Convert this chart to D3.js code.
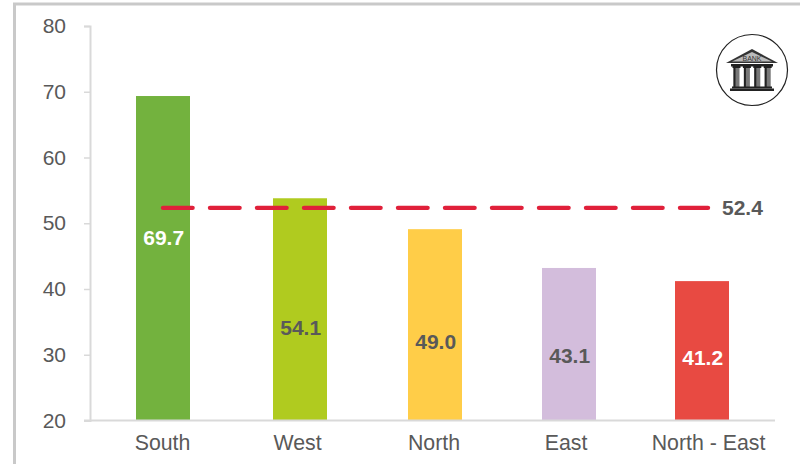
<!DOCTYPE html>
<html><head><meta charset="utf-8">
<script src="https://cdn.jsdelivr.net/npm/d3@7"></script>
<style>html,body{margin:0;padding:0;background:#fff}svg{display:block;font-family:"Liberation Sans",Arial,sans-serif}</style>
</head><body><div id="c"></div>
<script>
const categories = ["South","West","North","East","North - East"];
const barValues = [69.35,53.8,49.1,43.2,41.2];
const labelValues = [69.7,54.1,49.0,43.1,41.2];
const labelAnchors = [47.9,34.2,32.0,29.9,29.6];
const labelColors = ["#ffffff","#595959","#595959","#595959","#ffffff"];
const barColors = ["#73b23e","#b0cb1f","#ffcd48","#d3bddc","#e84a42"];
const averageValue = 52.4;
const yTicks = [20,30,40,50,60,70,80];

const W=800,H=464;
const svg=d3.select("#c").append("svg").attr("width",W).attr("height",H);
svg.append("path").attr("d","M14.5,464V4H800").attr("fill","none").attr("stroke","#c9c9c9").attr("stroke-width",3);

const y=d3.scaleLinear().domain([20,80]).range([420.5,26]);
const x=d3.scaleOrdinal().domain(categories).range([163,300,435,569,702]);
const xText=d3.scaleOrdinal().domain(categories).range([162.5,297.5,434,566,708.5]);
const barW=54, axisX=90;

svg.append("g").selectAll("rect").data(categories).join("rect")
 .attr("x",d=>x(d)-barW/2).attr("width",barW)
 .attr("y",(d,i)=>y(barValues[i])).attr("height",(d,i)=>y(20)-y(barValues[i]))
 .attr("fill",(d,i)=>barColors[i]);

// axes
const ax=svg.append("g").attr("transform",`translate(${axisX},0)`)
 .call(d3.axisLeft(y).tickValues(yTicks).tickSize(6).tickPadding(18));
ax.select(".domain").attr("stroke","#d9d9d9").attr("stroke-width",2);
ax.selectAll("line").attr("stroke","#d9d9d9").attr("stroke-width",1.5);
ax.selectAll("text").attr("fill","#595959").attr("font-size",21).attr("font-family","Liberation Sans");

svg.append("line").attr("x1",84).attr("x2",775).attr("y1",y(20)).attr("y2",y(20)).attr("stroke","#d9d9d9").attr("stroke-width",2);

svg.append("g").selectAll("text").data(categories).join("text")
 .attr("x",d=>xText(d)).attr("y",450).attr("text-anchor","middle")
 .attr("fill","#595959").attr("font-size",21.3).text(d=>d);

// average line
const avgLine=d3.line().x(d=>d).y(()=>y(averageValue)+0.4);
svg.append("path").attr("d",avgLine([163,708])).attr("fill","none")
 .attr("stroke","#e0203a").attr("stroke-width",4.4).attr("stroke-linecap","round").attr("stroke-dasharray","29.6 17.4");
svg.append("text").attr("x",722).attr("y",y(averageValue)+8).attr("fill","#595959")
 .attr("font-size",21).attr("font-weight","bold").text(averageValue.toFixed(1));

// value labels
svg.append("g").selectAll("text").data(categories).join("text")
 .attr("x",d=>x(d)+0.7).attr("y",(d,i)=>y(labelAnchors[i])).attr("text-anchor","middle")
 .attr("dominant-baseline","central")
 .attr("fill",(d,i)=>labelColors[i]).attr("font-size",21).attr("font-weight","bold")
 .text((d,i)=>labelValues[i].toFixed(1));

// bank icon
const ic=svg.append("g").attr("transform","translate(752,70)");
ic.append("circle").attr("r",35.5).attr("fill","#fff").attr("stroke","#222").attr("stroke-width",1.2);
ic.append("path").attr("d","M0,-21L26,-7H-26Z").attr("fill","#333");
ic.append("path").attr("d","M0,-18L20,-8.5H-20Z").attr("fill","#bbb");
ic.append("text").attr("y",-9.5).attr("text-anchor","middle").attr("font-size",7).attr("fill","#333").text("BANK");
ic.append("rect").attr("x",-21).attr("y",-6).attr("width",42).attr("height",2.5).attr("fill","#222");
d3.range(4).forEach(i=>{
 const cx=-15.5+i*10.4;
 ic.append("rect").attr("x",cx-3).attr("y",-3.5).attr("width",6).attr("height",21.5).attr("fill","#777");
 ic.append("rect").attr("x",cx-3).attr("y",-3.5).attr("width",2).attr("height",21.5).attr("fill","#222");
 ic.append("rect").attr("x",cx-4).attr("y",-4).attr("width",8).attr("height",2).attr("fill","#222");
});
ic.append("rect").attr("x",-20).attr("y",16.5).attr("width",40).attr("height",2).attr("fill","#222");
ic.append("rect").attr("x",-22).attr("y",18.5).attr("width",44).attr("height",2.5).attr("fill","#222");
</script></body></html>
